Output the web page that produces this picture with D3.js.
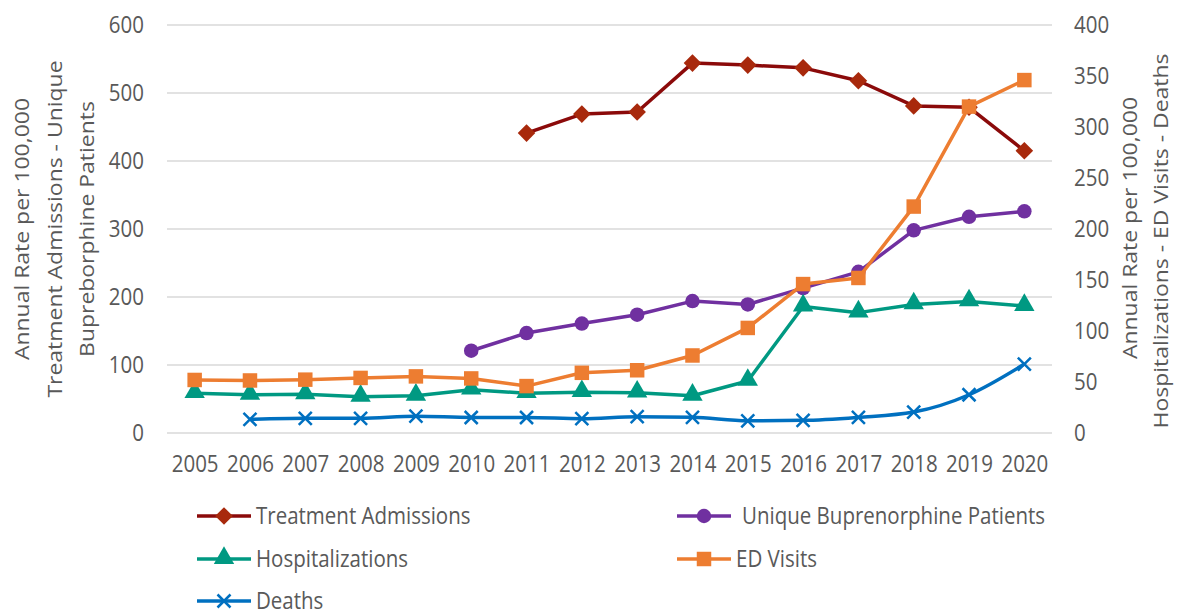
<!DOCTYPE html>
<html>
<head>
<meta charset="utf-8">
<script src="https://cdn.jsdelivr.net/npm/d3@7"></script>
<style>
  body { margin: 0; background: #fff; }
  svg { font-family: "Open Sans", sans-serif; }
</style>
</head>
<body>
<svg id="main-chart"></svg>
<script>
// data
const years = [2005, 2006, 2007, 2008, 2009, 2010, 2011, 2012, 2013, 2014, 2015, 2016, 2017, 2018, 2019, 2020];
// left axis series
const treatmentAdmissions = [null, null, null, null, null, null, 441, 469, 472, 544, 541, 537, 518, 481, 479, 415];
const buprenorphinePatients = [null, null, null, null, null, 121, 147, 161, 174, 194, 189, 213, 237, 298, 318, 326];
// right axis series
const hospitalizations = [39, 37.5, 38, 35.5, 36.5, 42.5, 39, 40, 39.5, 36.5, 51, 124, 118, 126, 129, 124.5];
const edVisits = [52, 51.5, 52.3, 54, 55.5, 53.5, 46, 59, 61.5, 76, 103, 146, 152, 222, 320, 346];
const deaths = [null, 13.4, 14.4, 14.4, 16.5, 15.2, 15.2, 14, 16, 15.4, 12, 12.4, 15.4, 20.5, 37.5, 67.6];
const leftTicks = [0, 100, 200, 300, 400, 500, 600];
const rightTicks = [0, 50, 100, 150, 200, 250, 300, 350, 400];

const series = [
  {name: "Treatment Admissions", values: treatmentAdmissions, axis: "left", line: "#8b0a0a", fill: "#a8290c", marker: "diamond"},
  {name: "Unique Buprenorphine Patients", values: buprenorphinePatients, axis: "left", line: "#7030a0", fill: "#7030a0", marker: "circle"},
  {name: "Hospitalizations", values: hospitalizations, axis: "right", line: "#009982", fill: "#009982", marker: "triangle"},
  {name: "ED Visits", values: edVisits, axis: "right", line: "#ed7d31", fill: "#ed7d31", marker: "square"},
  {name: "Deaths", values: deaths, axis: "right", line: "#0070c0", fill: "#0070c0", marker: "x", smooth: true}
];

function plotchart() {
  const width = 1180, height = 612;
  const margin = {top: 25, right: 128, bottom: 179, left: 167};
  const textColor = "#595959";
  const fontSize = "20.5px";
  const stretch = 1.15; // the reference text is a bit taller than wide

  const svg = d3.select("#main-chart")
    .attr("width", width)
    .attr("height", height);

  //scales
  const x = d3.scalePoint()
    .domain(years)
    .range([margin.left, width - margin.right])
    .padding(0.5);
  const yLeft = d3.scaleLinear()
    .domain([0, 600])
    .range([height - margin.bottom, margin.top]);
  const yRight = d3.scaleLinear()
    .domain([0, 400])
    .range([height - margin.bottom, margin.top]);

  //gridlines
  svg.append("g")
    .selectAll("line")
    .data(leftTicks)
    .join("line")
    .attr("x1", margin.left)
    .attr("x2", width - margin.right)
    .attr("y1", d => yLeft(d))
    .attr("y2", d => yLeft(d))
    .attr("stroke", "#d9d9d9")
    .attr("stroke-width", 1.5);

  //axes (no domain lines, only labels)
  const leftAxis = svg.append("g")
    .attr("transform", `translate(${margin.left - 23},0)`)
    .call(d3.axisLeft(yLeft).tickValues(leftTicks).tickSize(0).tickPadding(0));
  const rightAxis = svg.append("g")
    .attr("transform", `translate(${width - margin.right + 22},0)`)
    .call(d3.axisRight(yRight).tickValues(rightTicks).tickSize(0).tickPadding(0));
  const xAxis = svg.append("g")
    .attr("transform", `translate(0,${height - margin.bottom + 22})`)
    .call(d3.axisBottom(x).tickSize(0).tickPadding(0));

  [leftAxis, rightAxis, xAxis].forEach(g => {
    g.select(".domain").remove();
    g.selectAll("text")
      .attr("fill", textColor)
      .attr("font-family", "'Open Sans', sans-serif")
      .attr("font-size", fontSize)
      .attr("transform", `scale(1,${stretch})`);
  });
  xAxis.selectAll("text").attr("dy", "0.71em");

  //axis titles
  const plotMid = (yLeft(0) + yLeft(600)) / 2;
  const leftTitle = ["Annual Rate per 100,000", "Treatment Admissions - Unique", "Bupreborphine Patients"];
  svg.append("g")
    .selectAll("text")
    .data(leftTitle)
    .join("text")
    .attr("transform", (d, i) => `translate(${29 + i * 32.5},${plotMid}) rotate(-90) scale(1.12,1)`)
    .attr("text-anchor", "middle")
    .attr("fill", textColor)
    .attr("font-size", fontSize)
    .text(d => d);

  const rightTitle = ["Annual Rate per 100,000", "Hospitalizations - ED Visits - Deaths"];
  svg.append("g")
    .selectAll("text")
    .data(rightTitle)
    .join("text")
    .attr("transform", (d, i) => `translate(${1137 + i * 31},${i === 0 ? 228 : 241}) rotate(-90) scale(1.12,1)`)
    .attr("text-anchor", "middle")
    .attr("fill", textColor)
    .attr("font-size", fontSize)
    .text(d => d);

  //marker shapes
  function marker(g, s) {
    if (s.marker === "x") {
      g.append("path")
        .attr("d", "M-6.5,-6.5L6.5,6.5M-6.5,6.5L6.5,-6.5")
        .attr("stroke", s.fill)
        .attr("stroke-width", 2.5)
        .attr("fill", "none");
      return;
    }
    const sym = {
      diamond: d3.symbol(d3.symbolSquare, 155),
      circle: d3.symbol(d3.symbolCircle, 165),
      triangle: d3.symbol(d3.symbolTriangle, 180),
      square: d3.symbol(d3.symbolSquare, 210)
    }[s.marker];
    g.append("path")
      .attr("d", sym())
      .attr("transform", s.marker === "diamond" ? "rotate(45)" : (s.marker === "triangle" ? "translate(0,-1)" : null))
      .attr("fill", s.fill);
  }

  //lines + markers
  series.forEach(s => {
    const y = s.axis === "left" ? yLeft : yRight;
    const pts = years.map((yr, i) => ({year: yr, value: s.values[i]}));
    const line = d3.line()
      .defined(d => d.value != null)
      .x(d => x(d.year))
      .y(d => y(d.value))
      .curve(s.smooth ? d3.curveMonotoneX : d3.curveLinear);

    const g = svg.append("g");
    g.append("path")
      .datum(pts)
      .attr("d", line)
      .attr("fill", "none")
      .attr("stroke", s.line)
      .attr("stroke-width", 3.5)
      .attr("stroke-linejoin", "round");

    g.selectAll("g.pt")
      .data(pts.filter(d => d.value != null))
      .join("g")
      .attr("class", "pt")
      .attr("transform", d => `translate(${x(d.year)},${y(d.value)})`)
      .each(function() { marker(d3.select(this), s); });
  });

  //legend
  const legendPos = [
    {x: 197, y: 516}, {x: 677, y: 516},
    {x: 197, y: 559}, {x: 677, y: 559},
    {x: 197, y: 601}
  ];
  series.forEach((s, i) => {
    const p = legendPos[i];
    const lg = svg.append("g").attr("transform", `translate(${p.x},${p.y})`);
    lg.append("line")
      .attr("x1", 0).attr("x2", 54)
      .attr("stroke", s.line)
      .attr("stroke-width", 3.5);
    const m = lg.append("g").attr("transform", "translate(27,0)");
    marker(m, s);
    lg.append("text")
      .attr("x", i === 1 ? 65 : 59)
      .attr("dy", "0.35em")
      .attr("transform", `scale(1,${stretch})`)
      .attr("fill", textColor)
      .attr("font-size", fontSize)
      .text(s.name);
  });
}

plotchart();
</script>
</body>
</html>
